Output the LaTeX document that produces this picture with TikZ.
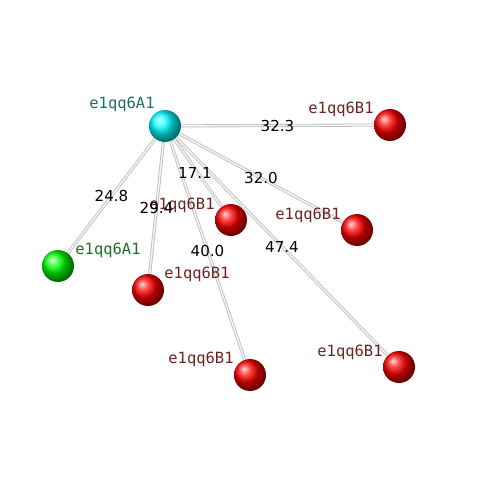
\documentclass[tikz,border=0pt]{standalone}
\usepackage{fontspec}
\setmainfont{DejaVu Sans}
\newfontfamily\monofont{DejaVu Sans Mono}
\usepackage{tikz}
\usetikzlibrary{positioning,shadings}

\definecolor{namered}{RGB}{110,35,35}
\definecolor{namegreen}{RGB}{35,110,35}
\definecolor{nameteal}{RGB}{35,105,110}

\begin{document}
\begin{tikzpicture}[
    x=0.02cm, y=-0.02cm,
    ball/.style={circle, minimum size=0.64cm, inner sep=0pt, shading=ball, ball color=#1},
    lbl/.style={on grid, font=\monofont\fontsize{8.8}{10}\selectfont, text=#1},
    stick/.style={draw=gray!50, line width=0.5pt, double=gray!8, double distance=0.8pt},
    dist/.style={font=\fontsize{8.6}{10}\selectfont, inner sep=1pt}
]
\useasboundingbox (0,0) rectangle (500,500);

% Central node
\node[ball=cyan] (a1) at (165,126) {};

% Surrounding spheres
\node[ball=green] (a1b) at (58,266) {};
\node[ball=red] (b1a) at (390,125) {};
\node[ball=red] (b1b) at (231,220) {};
\node[ball=red] (b1c) at (357,230) {};
\node[ball=red] (b1d) at (148,290) {};
\node[ball=red] (b1e) at (250,375) {};
\node[ball=red] (b1f) at (399,367) {};

% Sticks
\foreach \b in {a1b,b1a,b1b,b1c,b1d,b1e,b1f}
    \draw[stick] (a1) -- (\b);

% Names of the spheres
\node[lbl=nameteal, above left=0.44cm and 0.86cm of a1] (la1) {e1qq6A1};
\node[lbl=namegreen, above right=0.32cm and 1cm of a1b] (la1b) {e1qq6A1};
\node[lbl=namered, above left=0.32cm and 0.98cm of b1a] (lb1a) {e1qq6B1};
\node[lbl=namered, above left=0.3cm and 0.98cm of b1b] (lb1b) {e1qq6B1};
\node[lbl=namered, above left=0.3cm and 0.98cm of b1c] (lb1c) {e1qq6B1};
\node[lbl=namered, above right=0.32cm and 0.98cm of b1d] (lb1d) {e1qq6B1};
\node[lbl=namered, above left=0.32cm and 0.98cm of b1e] (lb1e) {e1qq6B1};
\node[lbl=namered, above left=0.3cm and 0.98cm of b1f] (lb1f) {e1qq6B1};

% Distances
\path (a1) -- node[dist, midway] (d1) {32.3} (b1a);
\path (a1) -- node[dist, midway, xshift=-0.06cm] (d2) {17.1} (b1b);
\path (a1) -- node[dist, midway] (d3) {32.0} (b1c);
\path (a1) -- node[dist, midway] (d4) {24.8} (a1b);
\path (a1) -- node[dist, midway] (d5) {29.4} (b1d);
\path (a1) -- node[dist, midway] (d6) {40.0} (b1e);
\path (a1) -- node[dist, midway] (d7) {47.4} (b1f);

\end{tikzpicture}
\end{document}
